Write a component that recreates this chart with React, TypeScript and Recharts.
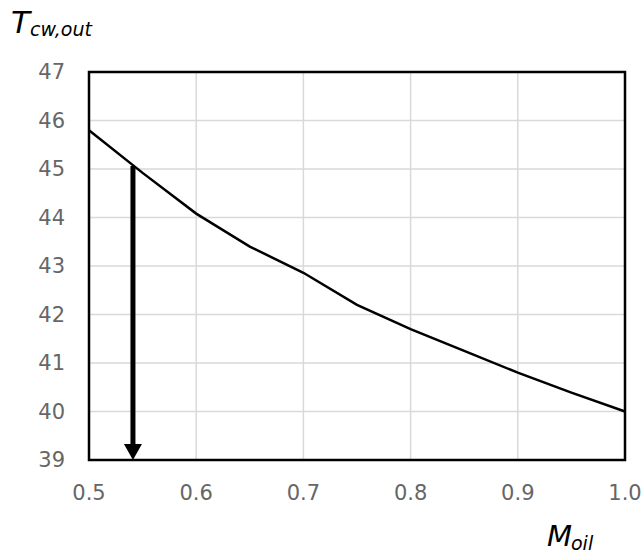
import { LineChart, Line, XAxis, YAxis, CartesianGrid, ReferenceArea, ReferenceLine } from 'recharts';

// oil mass flow vs outlet cooling-water temperature
const massFlow = [0.5, 0.55, 0.6, 0.65, 0.7, 0.75, 0.8, 0.85, 0.9, 0.95, 1.0];
const tempOut = [45.8, 44.92, 44.08, 43.4, 42.86, 42.2, 41.7, 41.25, 40.8, 40.39, 40.0];

const xTicks = [0.5, 0.6, 0.7, 0.8, 0.9, 1.0];
const yTicks = [39, 40, 41, 42, 43, 44, 45, 46, 47];

// the design point marked with the arrow
const arrowX = 0.541;
const arrowTop = 45.06;

const data = massFlow.map((m, i) => ({ m, t: tempOut[i] }));

const tickFont = "'DejaVu Sans', sans-serif";
const titleFont = "'DejaVu Sans', sans-serif";

function XTick(props: any) {
  const { x, y, payload } = props;
  return (
    <text x={x} y={y} dy={20} textAnchor="middle" fill="#666" fontSize={21} fontFamily={tickFont}>
      {Number(payload.value).toFixed(1)}
    </text>
  );
}

function YTick(props: any) {
  const { x, y, payload } = props;
  return (
    <text x={x} y={y} dy={7} textAnchor="end" fill="#666" fontSize={21} fontFamily={tickFont}>
      {payload.value}
    </text>
  );
}

function Arrow(props: any) {
  const { x1, y1, x2, y2 } = props;
  const head = 16;
  return (
    <g>
      <line x1={x1} y1={y1} x2={x2} y2={y2 - head + 1} stroke="#000" strokeWidth={5} />
      <polygon points={`${x2 - 9},${y2 - head} ${x2 + 9},${y2 - head} ${x2},${y2}`} fill="#000" />
    </g>
  );
}

export default function App() {
  return (
    <div style={{ position: 'absolute', left: 0, top: 0, width: 644, height: 556, background: '#fff' }}>
      <LineChart width={644} height={556} data={data} margin={{ top: 72, right: 19, bottom: 66, left: 29 }}>
        <CartesianGrid stroke="#d9d9d9" strokeWidth={1.5} />
        <XAxis
          dataKey="m"
          type="number"
          domain={[0.5, 1.0]}
          ticks={xTicks}
          axisLine={false}
          tickLine={false}
          tickSize={0}
          tickMargin={20}
          height={30}
          tick={<XTick />}
        />
        <YAxis
          type="number"
          domain={[39, 47]}
          ticks={yTicks}
          axisLine={false}
          tickLine={false}
          tickSize={0}
          tickMargin={24}
          width={60}
          tick={<YTick />}
        />
        <ReferenceArea x1={0.5} x2={1.0} y1={39} y2={47} fill="none" stroke="#000" strokeWidth={2.5} ifOverflow="visible" />
        <Line dataKey="t" type="linear" stroke="#000" strokeWidth={2.5} dot={false} isAnimationActive={false} />
        <ReferenceLine
          segment={[{ x: arrowX, y: arrowTop }, { x: arrowX, y: 39 }]}
          shape={Arrow}
          ifOverflow="visible"
        />
      </LineChart>
      <svg width={644} height={556} style={{ position: 'absolute', left: 0, top: 0, pointerEvents: 'none' }}>
        <text x={11} y={33} fontFamily={titleFont} fontStyle="italic" fontSize={31} fill="#000">T</text>
        <text x={30} y={36} fontFamily={titleFont} fontStyle="italic" fontSize={19} fill="#000">cw,out</text>
        <text x={547} y={546} fontFamily={titleFont} fontStyle="italic" fontSize={29} fill="#000">M</text>
        <text x={571} y={550} fontFamily={titleFont} fontStyle="italic" fontSize={19} fill="#000">oil</text>
      </svg>
    </div>
  );
}
